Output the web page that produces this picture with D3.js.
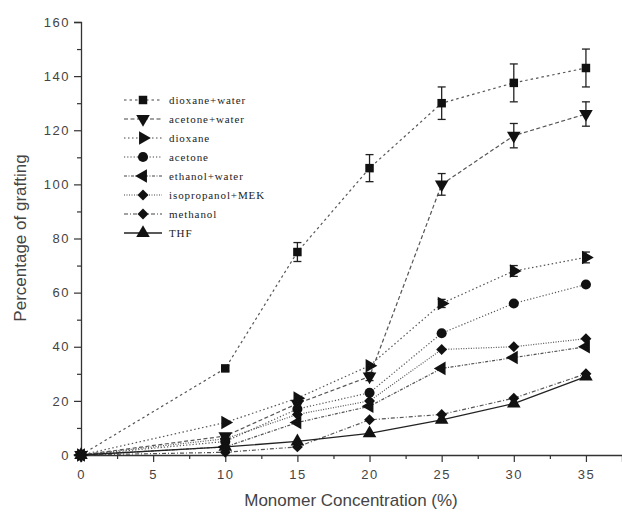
<!DOCTYPE html>
<html>
<head>
<meta charset="utf-8">
<script src="https://cdn.jsdelivr.net/npm/d3@7"></script>
<style>
  body { margin: 0; background: #fff; }
  svg { display: block; }
</style>
</head>
<body>
<div id="chart"></div>
<script>
'use strict'

var width = 622;
var height = 519;

// monomer concentration (%)
var concentrations = [0, 10, 15, 20, 25, 30, 35];

// percentage of grafting for each solvent
var seriesNames = ['dioxane+water', 'acetone+water', 'dioxane', 'acetone',
  'ethanol+water', 'isopropanol+MEK', 'methanol', 'THF'];
var dioxaneWater   = [0, 32, 75, 106, 130, 137.5, 143];
var acetoneWater   = [0, 7, 19, 29, 100, 118, 126];
var dioxane        = [0, 12, 21, 33, 56, 68, 73];
var acetone        = [0, 5, 17, 23, 45, 56, 63];
var ethanolWater   = [0, 3, 12, 18, 32, 36, 40];
var isopropanolMEK = [0, 6, 15, 20, 39, 40, 43];
var methanol       = [0, 1, 3, 13, 15, 21, 30];
var thf            = [0, 3, 5, 8, 13, 19, 29];

// error bars (+/-)
var dioxaneWaterErr = [0, 1, 3.5, 5, 6, 7, 7];
var acetoneWaterErr = [0, 0, 0, 1.5, 4, 4.5, 4.5];
var dioxaneErr      = [0, 0, 0, 0, 1.5, 2, 2];

var xTicks = [0, 5, 10, 15, 20, 25, 30, 35];
var yTicks = [0, 20, 40, 60, 80, 100, 120, 140, 160];

var seriesValues = [dioxaneWater, acetoneWater, dioxane, acetone,
  ethanolWater, isopropanolMEK, methanol, thf];
var seriesErrors = [dioxaneWaterErr, acetoneWaterErr, dioxaneErr,
  null, null, null, null, null];

// line and marker look per series
var dashes = ['2.5,3', '4,2.5', '1.5,2.5', '1.2,2', '3,1.5,1,1.5', '1,1.5', '4,2,1,2', null];
var symbols = [
  {type: d3.symbolSquare, size: 72, rot: 0},
  {type: d3.symbolTriangle, size: 80, rot: 180},
  {type: d3.symbolTriangle, size: 80, rot: 90},
  {type: d3.symbolCircle, size: 80, rot: 0},
  {type: d3.symbolTriangle, size: 80, rot: -90},
  {type: d3.symbolSquare, size: 60, rot: 45},
  {type: d3.symbolSquare, size: 60, rot: 45},
  {type: d3.symbolTriangle, size: 80, rot: 0}
];

var svg = d3.select('#chart').append('svg')
  .attr('width', width)
  .attr('height', height);

var xScale = d3.scaleLinear().domain([0, 37.5]).range([81, 622]);
var yScale = d3.scaleLinear().domain([0, 160]).range([455, 22]);

//axes

svg.append('g')
  .attr('transform', 'translate(0,' + yScale(0) + ')')
  .call(d3.axisBottom(xScale).tickValues(xTicks).tickSize(7).tickPadding(8)
    .tickFormat(d3.format('d')));

svg.append('g')
  .attr('transform', 'translate(0,' + yScale(0) + ')')
  .call(d3.axisBottom(xScale).tickValues(d3.range(2.5, 37.5, 5)).tickSize(4).tickFormat(''))
  .select('.domain').remove();

svg.append('g')
  .attr('transform', 'translate(' + xScale(0) + ',0)')
  .call(d3.axisLeft(yScale).tickValues(yTicks).tickSize(7).tickPadding(4));

svg.append('g')
  .attr('transform', 'translate(' + xScale(0) + ',0)')
  .call(d3.axisLeft(yScale).tickValues(d3.range(10, 160, 20)).tickSize(4).tickFormat(''))
  .select('.domain').remove();

svg.selectAll('.domain').attr('stroke', '#333').attr('stroke-width', 1.3);
svg.selectAll('.tick line').attr('stroke', '#333').attr('stroke-width', 1.2);
svg.selectAll('.tick text')
  .attr('font-family', 'Liberation Sans, Arial, sans-serif')
  .attr('font-size', 13)
  .attr('letter-spacing', 1.5)
  .attr('fill', '#444');

//axis titles

svg.append('text')
  .attr('x', 351)
  .attr('y', 506)
  .attr('text-anchor', 'middle')
  .attr('font-family', 'Liberation Sans, Arial, sans-serif')
  .attr('font-size', 17)
  .attr('fill', '#444')
  .text('Monomer Concentration (%)');

svg.append('text')
  .attr('transform', 'translate(26,238) rotate(-90)')
  .attr('text-anchor', 'middle')
  .attr('font-family', 'Liberation Sans, Arial, sans-serif')
  .attr('font-size', 17)
  .attr('fill', '#444')
  .text('Percentage of grafting');

//series lines, error bars and markers

var line = d3.line()
  .x(function(d){return xScale(d[0]);})
  .y(function(d){return yScale(d[1]);});

var plot = svg.append('g');

seriesValues.forEach(function(vals, i){
  var pts = concentrations.map(function(c, j){return [c, vals[j]];});
  plot.append('path')
    .datum(pts)
    .attr('d', line)
    .attr('fill', 'none')
    .attr('stroke', i === 7 ? '#222' : '#555')
    .attr('stroke-width', i === 7 ? 1.3 : 1.2)
    .attr('stroke-dasharray', dashes[i]);
});

seriesValues.forEach(function(vals, i){
  var errs = seriesErrors[i];
  if (!errs) return;
  concentrations.forEach(function(c, j){
    if (!errs[j]) return;
    var x = xScale(c);
    var y1 = yScale(vals[j] + errs[j]);
    var y2 = yScale(vals[j] - errs[j]);
    var eg = plot.append('g').attr('stroke', '#222').attr('stroke-width', 1.3);
    eg.append('line').attr('x1', x).attr('x2', x).attr('y1', y1).attr('y2', y2);
    eg.append('line').attr('x1', x - 4).attr('x2', x + 4).attr('y1', y1).attr('y2', y1);
    eg.append('line').attr('x1', x - 4).attr('x2', x + 4).attr('y1', y2).attr('y2', y2);
  });
});

seriesValues.forEach(function(vals, i){
  var s = symbols[i];
  var path = d3.symbol().type(s.type).size(s.size)();
  plot.selectAll(null)
    .data(concentrations.map(function(c, j){return [c, vals[j]];}))
    .enter().append('path')
      .attr('d', path)
      .attr('transform', function(d){
        return 'translate(' + xScale(d[0]) + ',' + yScale(d[1]) + ') rotate(' + s.rot + ')';
      })
      .attr('fill', '#111');
});

//legend

var legend = svg.append('g');
var legendTop = 100;
var legendStep = 19;

seriesNames.forEach(function(name, i){
  var y = legendTop + i * legendStep;
  legend.append('line')
    .attr('x1', 124).attr('x2', 162)
    .attr('y1', y).attr('y2', y)
    .attr('stroke', i === 7 ? '#222' : '#444')
    .attr('stroke-width', i === 7 ? 1.5 : 1.2)
    .attr('stroke-dasharray', dashes[i]);
  var s = symbols[i];
  legend.append('path')
    .attr('d', d3.symbol().type(s.type).size(s.size)())
    .attr('transform', 'translate(143,' + y + ') rotate(' + s.rot + ')')
    .attr('fill', '#111');
  legend.append('text')
    .attr('x', 169)
    .attr('y', y + 4)
    .attr('font-family', 'Liberation Serif, Times New Roman, serif')
    .attr('font-size', 11)
    .attr('letter-spacing', 0.9)
    .attr('fill', '#222')
    .text(name);
});
</script>
</body>
</html>
